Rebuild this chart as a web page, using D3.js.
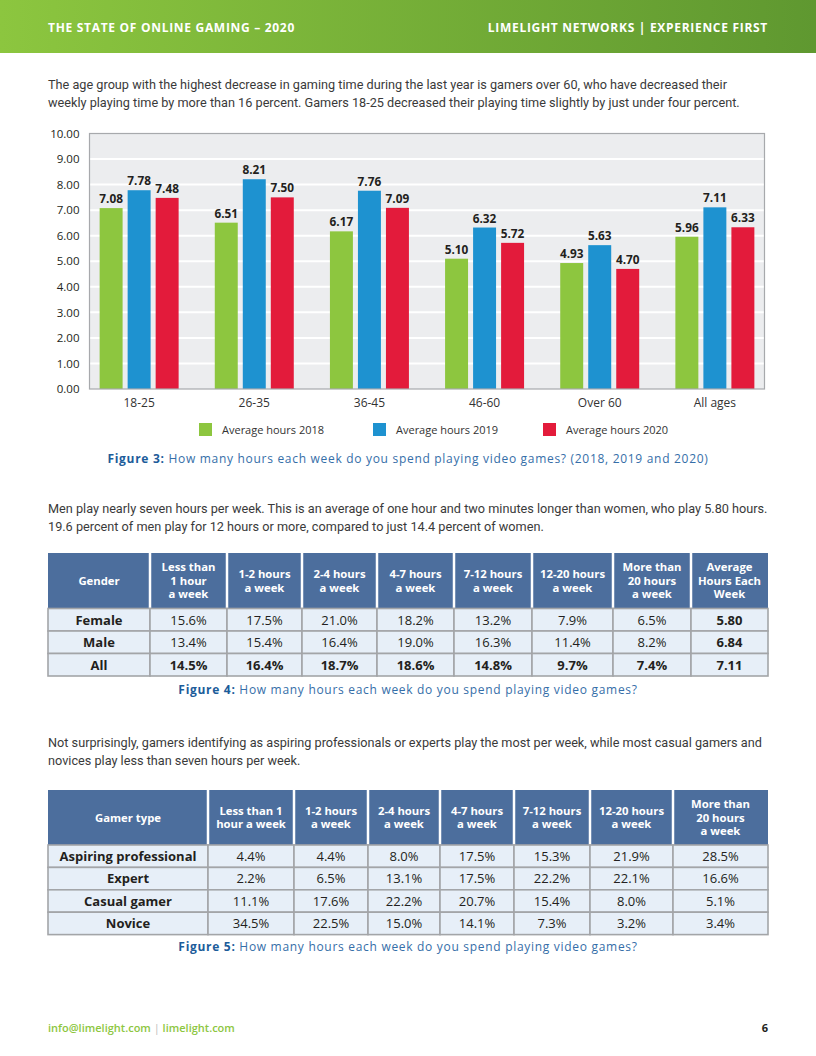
<!DOCTYPE html>
<html>
<head>
<meta charset="utf-8">
<script src="https://cdn.jsdelivr.net/npm/d3@7"></script>
<style>
  body { margin: 0; background: #fff; }
  svg text { font-family: "Open Sans", sans-serif; }
  .prose { font-family: Roboto, sans-serif; font-size: 12.7px; fill: #3a3a3a; }
</style>
</head>
<body>
<svg id="page" width="816" height="1056"></svg>
<script>
// ---- data ----
const ageGroups = ["18-25", "26-35", "36-45", "46-60", "Over 60", "All ages"];
const seriesNames = ["Average hours 2018", "Average hours 2019", "Average hours 2020"];
const hours2018 = [7.08, 6.51, 6.17, 5.10, 4.93, 5.96];
const hours2019 = [7.78, 8.21, 7.76, 6.32, 5.63, 7.11];
const hours2020 = [7.48, 7.50, 7.09, 5.72, 4.70, 6.33];
const yTickValues = [0, 1, 2, 3, 4, 5, 6, 7, 8, 9, 10];

const genderHeader = [
  ["Gender"], ["Less than", "1 hour", "a week"], ["1-2 hours", "a week"], ["2-4 hours", "a week"],
  ["4-7 hours", "a week"], ["7-12 hours", "a week"], ["12-20 hours", "a week"],
  ["More than", "20 hours", "a week"], ["Average", "Hours Each", "Week"]
];
const genderRows = ["Female", "Male", "All"];
const genderFemale = ["15.6%", "17.5%", "21.0%", "18.2%", "13.2%", "7.9%", "6.5%", "5.80"];
const genderMale = ["13.4%", "15.4%", "16.4%", "19.0%", "16.3%", "11.4%", "8.2%", "6.84"];
const genderAll = ["14.5%", "16.4%", "18.7%", "18.6%", "14.8%", "9.7%", "7.4%", "7.11"];

const typeHeader = [
  ["Gamer type"], ["Less than 1", "hour a week"], ["1-2 hours", "a week"], ["2-4 hours", "a week"],
  ["4-7 hours", "a week"], ["7-12 hours", "a week"], ["12-20 hours", "a week"],
  ["More than", "20 hours", "a week"]
];
const typeRows = ["Aspiring professional", "Expert", "Casual gamer", "Novice"];
const typeAspiring = ["4.4%", "4.4%", "8.0%", "17.5%", "15.3%", "21.9%", "28.5%"];
const typeExpert = ["2.2%", "6.5%", "13.1%", "17.5%", "22.2%", "22.1%", "16.6%"];
const typeCasual = ["11.1%", "17.6%", "22.2%", "20.7%", "15.4%", "8.0%", "5.1%"];
const typeNovice = ["34.5%", "22.5%", "15.0%", "14.1%", "7.3%", "3.2%", "3.4%"];

const para1 = [
  "The age group with the highest decrease in gaming time during the last year is gamers over 60, who have decreased their",
  "weekly playing time by more than 16 percent. Gamers 18-25 decreased their playing time slightly by just under four percent."
];
const para2 = [
  "Men play nearly seven hours per week. This is an average of one hour and two minutes longer than women, who play 5.80 hours.",
  "19.6 percent of men play for 12 hours or more, compared to just 14.4 percent of women."
];
const para3 = [
  "Not surprisingly, gamers identifying as aspiring professionals or experts play the most per week, while most casual gamers and",
  "novices play less than seven hours per week."
];

// ---- layout / styles ----
const GREEN = "#8dc63f", BLUE = "#1e92d0", RED = "#e31b3b";
const INK = "#231f20", HEAD = "#4c6e9d", CELL = "#e7eff8", RULE = "#a3a5a8";
const svg = d3.select("#page");

// page header bar
const grad = svg.append("defs").append("linearGradient").attr("id", "hdr");
grad.append("stop").attr("offset", "0%").attr("stop-color", "#8cc63f");
grad.append("stop").attr("offset", "100%").attr("stop-color", "#5f9830");
svg.append("rect").attr("width", 816).attr("height", 53).attr("fill", "url(#hdr)");
svg.append("text").attr("x", 48).attr("y", 32).attr("fill", "#fff")
  .style("font-size", "12px").style("font-weight", 700).style("letter-spacing", "0.7px")
  .text("THE STATE OF ONLINE GAMING – 2020");
svg.append("text").attr("x", 768).attr("y", 32).attr("fill", "#fff").attr("text-anchor", "end")
  .style("font-size", "12px").style("font-weight", 700).style("letter-spacing", "0.7px")
  .text("LIMELIGHT NETWORKS | EXPERIENCE FIRST");

function prose(lines, y0) {
  svg.append("g").selectAll("text").data(lines).join("text")
    .attr("class", "prose").attr("x", 48).attr("y", (d, i) => y0 + i * 17.5).text((d) => d);
}
prose(para1, 89);
prose(para2, 513);
prose(para3, 747);

// ---- figure 3: grouped bars ----
const P = { left: 89.5, right: 764.5, top: 133.5, bottom: 389 };
const x = d3.scaleBand().domain(ageGroups).range([P.left, P.right]).paddingInner(0.314).paddingOuter(0.088);
const xs = d3.scaleBand().domain(seriesNames).range([0, x.bandwidth()]).paddingInner(0.18);
const y = d3.scaleLinear().domain([0, 10]).range([P.bottom, P.top]);
const color = d3.scaleOrdinal().domain(seriesNames).range([GREEN, BLUE, RED]);
const seriesValues = [hours2018, hours2019, hours2020];

const chart = svg.append("g");
chart.append("rect").attr("x", P.left).attr("y", P.top)
  .attr("width", P.right - P.left).attr("height", P.bottom - P.top).attr("fill", "#ecedef");
chart.append("g").selectAll("line").data(yTickValues.slice(1, -1)).join("line")
  .attr("x1", P.left).attr("x2", P.right).attr("y1", (d) => y(d)).attr("y2", (d) => y(d))
  .attr("stroke", "#fff").attr("stroke-width", 2);

const yAxis = chart.append("g").attr("transform", `translate(${P.left},0)`)
  .call(d3.axisLeft(y).tickValues(yTickValues).tickFormat(d3.format(".2f")).tickSize(0).tickPadding(10));
yAxis.select(".domain").remove();
yAxis.selectAll("text").attr("fill", INK).style("font-size", "11.5px").style("font-family", "Open Sans");

const groups = chart.append("g").selectAll("g").data(ageGroups).join("g")
  .attr("transform", (d) => `translate(${x(d)},0)`);
groups.selectAll("rect")
  .data((d, i) => seriesNames.map((s, k) => ({ s, v: seriesValues[k][i] })))
  .join("rect")
  .attr("x", (d) => xs(d.s)).attr("width", xs.bandwidth())
  .attr("y", (d) => y(d.v)).attr("height", (d) => y(0) - y(d.v))
  .attr("fill", (d) => color(d.s));
groups.selectAll("text")
  .data((d, i) => seriesNames.map((s, k) => ({ s, v: seriesValues[k][i] })))
  .join("text")
  .attr("x", (d) => xs(d.s) + xs.bandwidth() / 2).attr("y", (d) => y(d.v) - 5)
  .attr("text-anchor", "middle").attr("fill", INK)
  .style("font-size", "11.8px").style("font-weight", 700)
  .text((d) => d.v.toFixed(2));

chart.append("rect").attr("x", P.left).attr("y", P.top)
  .attr("width", P.right - P.left).attr("height", P.bottom - P.top)
  .attr("fill", "none").attr("stroke", "#a7a9ac").attr("stroke-width", 1.2);

const xAxis = chart.append("g").attr("transform", `translate(0,${P.bottom})`)
  .call(d3.axisBottom(x).tickSize(0).tickPadding(9));
xAxis.select(".domain").remove();
xAxis.selectAll("text").attr("fill", "#333").style("font-size", "12px").style("font-family", "Open Sans");

// legend
const legendX = d3.scaleOrdinal().domain(seriesNames).range([199, 373, 543]);
const lg = chart.append("g").selectAll("g").data(seriesNames).join("g")
  .attr("transform", (d) => `translate(${legendX(d)},423)`);
lg.append("rect").attr("width", 13).attr("height", 13).attr("fill", (d) => color(d));
lg.append("text").attr("x", 23).attr("y", 11).attr("fill", "#333")
  .style("font-size", "11px").text((d) => d);

function caption(num, rest, y0) {
  const t = svg.append("text").attr("x", 408).attr("y", y0).attr("text-anchor", "middle")
    .style("font-size", "12px").style("letter-spacing", "0.7px");
  t.append("tspan").attr("fill", "#1c5c9a").style("font-weight", 700).text(num + " ");
  t.append("tspan").attr("fill", "#356ea8").text(rest);
}
caption("Figure 3:", "How many hours each week do you spend playing video games? (2018, 2019 and 2020)", 463);

// ---- tables ----
function table(opts) {
  const edges = [opts.left].concat(Array.from(d3.cumsum(opts.widths), (w) => opts.left + w));
  const g = svg.append("g");
  const right = edges[edges.length - 1];
  g.append("rect").attr("x", edges[0]).attr("y", opts.top)
    .attr("width", right - edges[0]).attr("height", opts.headH).attr("fill", HEAD);
  g.append("g").selectAll("line").data(edges.slice(1, -1)).join("line")
    .attr("x1", (d) => d).attr("x2", (d) => d).attr("y1", opts.top).attr("y2", opts.top + opts.headH)
    .attr("stroke", "#fff").attr("stroke-width", 2.5);
  const hc = g.append("g").selectAll("text").data(opts.header).join("text")
    .attr("text-anchor", "middle").attr("fill", "#fff")
    .style("font-size", "11.3px").style("font-weight", 700);
  hc.selectAll("tspan").data((d, i) => d.map((line, k) => ({ line, k, n: d.length, i }))).join("tspan")
    .attr("x", (d) => (edges[d.i] + edges[d.i + 1]) / 2)
    .attr("y", (d) => opts.top + opts.headH / 2 + 4 + (d.k - (d.n - 1) / 2) * 13.5)
    .text((d) => d.line);

  const bodyTop = opts.top + opts.headH;
  const rows = g.append("g").selectAll("g").data(opts.rows).join("g")
    .attr("transform", (d, r) => `translate(0,${bodyTop + r * opts.rowH})`);
  const cells = rows.selectAll("g")
    .data((d, r) => [d].concat(opts.values[r]).map((v, c) => ({ v, c, r })))
    .join("g");
  cells.append("rect")
    .attr("x", (d) => edges[d.c]).attr("width", (d) => edges[d.c + 1] - edges[d.c])
    .attr("height", opts.rowH).attr("fill", CELL).attr("stroke", RULE).attr("stroke-width", 1.6);
  cells.append("text")
    .attr("x", (d) => (edges[d.c] + edges[d.c + 1]) / 2).attr("y", opts.rowH / 2 + 4.8)
    .attr("text-anchor", "middle").attr("fill", INK)
    .style("font-size", "13px")
    .style("font-weight", (d) => (opts.bold(d) ? 700 : 400))
    .text((d) => d.v);
}

table({
  left: 48, top: 553, headH: 55.5, rowH: 22.5,
  widths: [102, 77, 75, 75, 77, 78, 81, 78, 77],
  header: genderHeader, rows: genderRows,
  values: [genderFemale, genderMale, genderAll],
  bold: (d) => d.c === 0 || d.r === 2 || d.c === 8
});
caption("Figure 4:", "How many hours each week do you spend playing video games?", 694);

table({
  left: 48, top: 790, headH: 55, rowH: 22.4,
  widths: [160, 86, 74, 72, 74, 76, 83, 95],
  header: typeHeader, rows: typeRows,
  values: [typeAspiring, typeExpert, typeCasual, typeNovice],
  bold: (d) => d.c === 0
});
caption("Figure 5:", "How many hours each week do you spend playing video games?", 951);

// footer
const ft = svg.append("text").attr("x", 48).attr("y", 1032).style("font-size", "11px").style("font-weight", 600);
ft.append("tspan").attr("fill", GREEN).text("info@limelight.com");
ft.append("tspan").attr("fill", "#bbb").style("font-weight", 400).text("   |   ");
ft.append("tspan").attr("fill", GREEN).text("limelight.com");
svg.append("text").attr("x", 768).attr("y", 1032).attr("text-anchor", "end").attr("fill", INK)
  .style("font-size", "11px").style("font-weight", 700).text("6");
</script>
</body>
</html>
